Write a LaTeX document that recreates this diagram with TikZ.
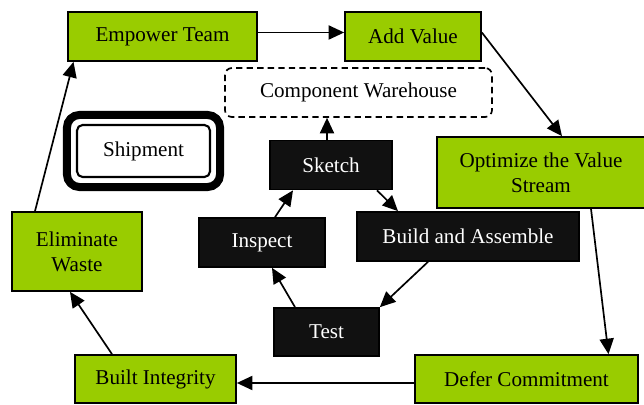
\documentclass[tikz,border=0pt]{standalone}
\usepackage{fontspec}
\setmainfont{Liberation Serif}
\usetikzlibrary{arrows.meta,calc}

\definecolor{leangreen}{HTML}{99CC00}
\definecolor{stageblack}{HTML}{111111}

\tikzset{
    principle/.style={draw=black, fill=leangreen, line width=1.2pt,
        minimum height=1.225cm, inner sep=0pt, align=center,
        font=\fontsize{15}{17.8}\selectfont},
    stage/.style={draw=black, fill=stageblack, text=white, line width=1.2pt,
        minimum height=1.225cm, inner sep=0pt,
        font=\fontsize{15}{17.8}\selectfont},
    store/.style={draw=black, dash pattern=on 4.5pt off 3pt, line width=1.2pt,
        rounded corners=5pt, minimum height=1.225cm, inner sep=0pt,
        font=\fontsize{15}{17.8}\selectfont},
    flow/.style={-{Triangle[length=11pt,width=10pt]}, line width=1.2pt}
}

\begin{document}
\begin{tikzpicture}[x=0.025cm, y=-0.025cm]
    \useasboundingbox (0,0) rectangle (644,405);

% lean principles
    \node[principle, minimum width=4.725cm] (empower) at (162.5,36.5) {Empower Team};
    \node[principle, minimum width=3.4cm] (addvalue) at (413,36.5) {Add Value};
    \node[principle, minimum width=5.2cm, minimum height=1.775cm] (optimize) at (541,172.5)
        {Optimize the Value\\Stream};
    \node[principle, minimum width=5.575cm, minimum height=1.2cm] (defer) at (526.5,379) {Defer Commitment};
    \node[principle, minimum width=4.025cm, minimum height=1.2cm] (integrity) at (155.5,379) {Built Integrity};
    \node[principle, minimum width=3.25cm, minimum height=1.975cm] (eliminate) at (77,251.5)
        {Eliminate\\Waste};

% stores
    \node[store, minimum width=6.675cm] (warehouse) at (358.5,92.5) {Component Warehouse};
    \node[draw=black, line width=1.5pt, rounded corners=4pt, minimum width=3.325cm,
        minimum height=1.3cm, inner sep=0pt, font=\fontsize{15}{17.8}\selectfont]
        (shipment) at (143.5,151) {Shipment};
    \draw[line width=5.7pt, rounded corners=9pt]
        ($(shipment.south west)+(-9,9)$) rectangle ($(shipment.north east)+(9,-9)$);

% production stages
    \node[stage, minimum width=3.05cm] (sketch) at (331,165) {Sketch};
    \node[stage, minimum width=5.55cm] (build) at (468,236.5) {Build and Assemble};
    \node[stage, minimum width=2.625cm, minimum height=1.2cm] (test) at (326.5,332) {Test};
    \node[stage, minimum width=3.15cm] (inspect) at (262,242.5) {Inspect};

% outer cycle
    \draw[flow] ($(empower.east)+(0,-4)$) -- ($(addvalue.west)+(0,-4)$);
    \draw[flow] ($(addvalue.east)+(0,-4)$) -- ($(optimize.north)+(21,0)$);
    \draw[flow] ($(optimize.south)+(50,0)$) -- ($(defer.north)+(82,0)$);
    \draw[flow] ($(defer.west)+(0,4)$) -- ($(integrity.east)+(0,4)$);
    \draw[flow] ($(integrity.north)+(-43.5,0)$) -- ($(eliminate.south)+(-7,0)$);
    \draw[flow] ($(eliminate.north)+(-42,0)$) -- ($(empower.south)+(-89,0)$);

% inner cycle
    \coordinate (sketchtop) at ($(sketch.north)+(-4,0)$);
    \coordinate (storebottom) at (sketchtop |- warehouse.south);
    \draw[flow] (sketchtop) -- (storebottom);
    \draw[flow] ($(sketch.south)+(46,0)$) -- ($(build.north)+(-70,0)$);
    \draw[flow] ($(build.south)+(-40,0)$) -- (test.north east);
    \draw[flow] ($(test.north)+(-31.5,0)$) -- ($(inspect.south)+(10,0)$);
    \draw[flow] ($(inspect.north)+(13,0)$) -- ($(sketch.south)+(-38,0)$);
\end{tikzpicture}
\end{document}
